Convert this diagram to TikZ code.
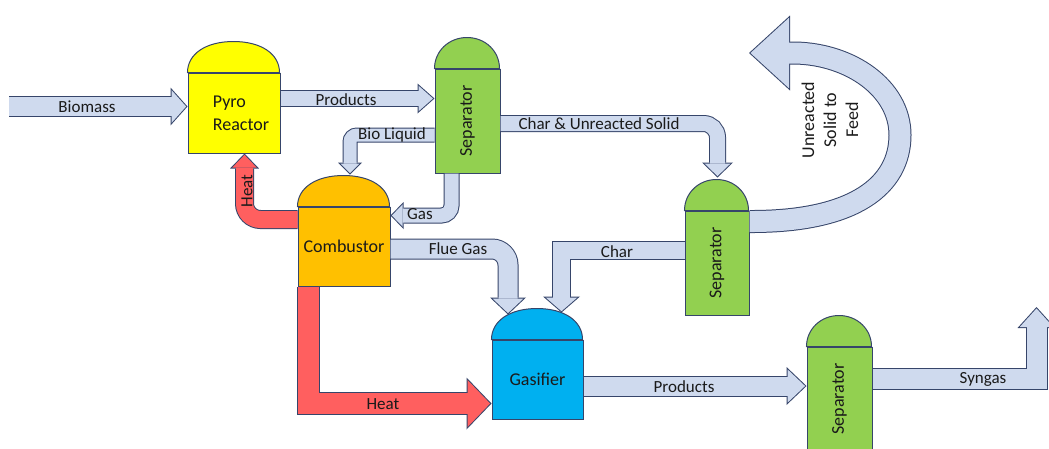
\documentclass[tikz,border=0pt]{standalone}
\usepackage{fontspec}
\setmainfont{Carlito}
\usetikzlibrary{arrows.meta, calc}
\definecolor{edgecol}{HTML}{36456A}
\definecolor{pipecol}{HTML}{CFDAEE}
\definecolor{heatcol}{HTML}{FF5F5F}
\definecolor{pyrocol}{HTML}{FFFF00}
\definecolor{sepcol}{HTML}{92D050}
\definecolor{combcol}{HTML}{FFC000}
\definecolor{gascol}{HTML}{00B0F0}
\definecolor{txtcol}{HTML}{1A1A1A}
\tikzstyle{vessel} = [rectangle, draw=edgecol, line width=1pt, inner sep=0pt, align=center, text=txtcol, font=\fontsize{18}{23}\selectfont]
\tikzstyle{lbl} = [inner sep=0pt, text=txtcol, font=\fontsize{17}{22}\selectfont]
% block arrow: shaft width, head length, head width, fill colour
\tikzset{pipe/.code n args={4}{%
  \pgfmathsetmacro\pipeout{#1+2}%
  \pgfmathsetmacro\headsep{1/sin(atan(#3/(2*#2)))}%
  \pgfmathsetmacro\headlen{#2-1-\headsep}%
  \pgfmathsetmacro\headwid{#3*\headlen/#2}%
  \edef\pipeopts{line width=#1pt, draw=#4,
    -{Triangle[length=\headlen pt, width=\headwid pt, sep=\headsep pt, line width=0pt]},
    preaction={draw=edgecol, line width=\pipeout pt,
      -{Triangle[length=#2pt, width=#3pt, line width=0pt]}}}%
  \expandafter\pgfkeysalso\expandafter{\pipeopts}}}

\begin{document}
\begin{tikzpicture}[x=1pt, y=-1pt]
\path[use as bounding box, fill=white] (0,0) rectangle (1049,448);

% vessels
\node (pyro) [vessel, fill=pyrocol, minimum width=92pt, minimum height=80pt, align=left] at (234,113) {\hspace*{14pt}Pyro\\\hspace*{14pt}Reactor};
\node (sepa) [vessel, fill=sepcol, minimum width=65pt, minimum height=104pt] at (467.5,121) {\rotatebox{90}{Separator}};
\node (comb) [vessel, fill=combcol, minimum width=92pt, minimum height=79pt] at (344,246.5) {Combustor};
\node (sepb) [vessel, fill=sepcol, minimum width=64pt, minimum height=104pt] at (717,263) {\rotatebox{90}{Separator}};
\node (gasi) [vessel, fill=gascol, minimum width=91pt, minimum height=79pt] at (537.5,379.5) {Gasifier};
\node (sepc) [vessel, fill=sepcol, minimum width=65pt, minimum height=104pt] at (839.5,399) {\rotatebox{90}{Separator}};

% domes
\foreach \v/\c/\r/\k in {pyro/pyrocol/46/0.6, sepa/sepcol/32.5/0.56, comb/combcol/46/0.6, sepb/sepcol/32/0.56, gasi/gascol/45.5/0.6, sepc/sepcol/32.5/0.56}
  \draw[draw=edgecol, line width=1pt, fill=\c] (\v.north west) .. controls +(0,-31*\k) and +(-\r*\k,0) .. ++(\r,-31)
    .. controls +(\r*\k,0) and +(0,-31*\k) .. ++(\r,31) -- cycle;

\coordinate (feed) at (9,106.5);
\coordinate (out) at (1036.5,307);
\coordinate (back) at (749,53);

% streams
\draw[pipe={19}{17}{38}{pipecol}] (feed) -- ($(pyro.west)+(0,-6.5)$);
\draw[pipe={15}{17}{30}{pipecol}] ($(pyro.east)+(0,-14.5)$) -- ($(sepa.west)+(0,-22.5)$);
\draw[pipe={15}{15}{31}{pipecol}, rounded corners=14pt] ($(sepa.east)+(0,2.5)$) -| ($(sepb.north)+(0.5,-33)$);
\draw[pipe={13}{12}{24}{pipecol}, rounded corners=7pt] ($(sepa.west)+(0,14)$) -| ($(comb.north)+(6,-32)$);
\draw[pipe={14}{13}{27}{pipecol}, rounded corners=10pt] ($(sepa.south)+(-16,0)$) |- ($(comb.east)+(0,-31)$);
\draw[pipe={17}{15}{29}{heatcol}, rounded corners=16pt] ($(comb.west)+(0,-27)$) -| ($(pyro.south)+(10.5,0)$);
\draw[pipe={19}{17}{36}{pipecol}, rounded corners=16pt] ($(comb.east)+(0,2.5)$) -| ($(gasi.north)+(-29.5,-25)$);
\draw[pipe={17}{16}{37}{pipecol}] ($(sepb.west)+(0,-12.5)$) -| ($(gasi.north)+(24,-27)$);
\draw[pipe={21}{25}{52}{heatcol}] ($(comb.south)+(-35.5,0)$) |- ($(gasi.west)+(0,24)$);
\draw[pipe={19}{20}{38}{pipecol}] ($(gasi.east)+(0,6.5)$) -- ($(sepc.west)+(0,-13)$);
\draw[pipe={20}{21}{38}{pipecol}] ($(sepc.east)+(0,-20)$) -| (out);
\draw[pipe={21}{41}{75}{pipecol}] ($(sepb.east)+(0,-41.5)$) .. controls (855,222) and (900,185) .. (900,135) .. controls (900,88) and (850,54) .. (795,53) -- (back);

% labels
\node (tbio) [lbl] at (87,107) {Biomass};
\node (tprod) [lbl] at (346,100) {Products};
\node (tchar) [lbl] at (599,124) {Char \& Unreacted Solid};
\node (tliq) [lbl] at (392,135) {Bio Liquid};
\node (tgas) [lbl] at (420,214) {Gas};
\node (theat) [lbl, rotate=90] at (247,191) {Heat};
\node (tflue) [lbl] at (458,249) {Flue Gas};
\node (tch) [lbl] at (617,252) {Char};
\node (theatb) [lbl] at (383,404) {Heat};
\node (tprodb) [lbl] at (684,387) {Products};
\node (tsyn) [lbl] at (983,379) {Syngas};
\node (tfeed) [lbl, rotate=90, align=center, font=\fontsize{18}{22}\selectfont] at (830,120) {Unreacted\\Solid to\\Feed};
\end{tikzpicture}
\end{document}
